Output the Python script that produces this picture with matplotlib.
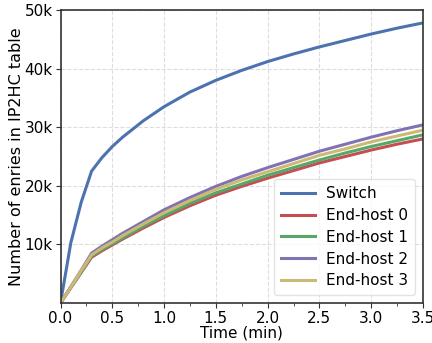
import matplotlib
matplotlib.use("Agg")
import matplotlib.pyplot as plt
from matplotlib.ticker import MultipleLocator, FuncFormatter

t = [0, 0.1, 0.2, 0.3, 0.4, 0.5, 0.6, 0.8, 1.0, 1.25, 1.5, 1.75, 2.0, 2.25, 2.5, 2.75, 3.0, 3.25, 3.5]
switch = [0, 10.3, 17.2, 22.5, 24.8, 26.7, 28.3, 31.1, 33.5, 36.0, 38.0, 39.7, 41.2, 42.5, 43.7, 44.8, 45.9, 46.9, 47.8]
host0 = [0, 2.6, 5.2, 7.8, 8.9, 9.9, 10.9, 12.8, 14.6, 16.6, 18.4, 19.9, 21.3, 22.6, 23.9, 25.0, 26.1, 27.1, 28.0]
host1 = [0, 2.65, 5.3, 8.0, 9.1, 10.1, 11.1, 13.1, 14.9, 17.0, 18.8, 20.3, 21.8, 23.1, 24.4, 25.6, 26.7, 27.7, 28.7]
host2 = [0, 2.8, 5.6, 8.5, 9.7, 10.8, 11.9, 13.9, 15.9, 18.0, 19.9, 21.6, 23.1, 24.5, 25.9, 27.1, 28.3, 29.4, 30.4]
host3 = [0, 2.7, 5.5, 8.2, 9.4, 10.4, 11.5, 13.5, 15.4, 17.5, 19.4, 21.0, 22.4, 23.8, 25.2, 26.3, 27.5, 28.5, 29.5]

series = [("Switch", switch, "#4C72B0"),
          ("End-host 0", host0, "#C44E52"),
          ("End-host 1", host1, "#55A868"),
          ("End-host 2", host2, "#8172B2"),
          ("End-host 3", host3, "#CCB974")]

plt.rcParams['font.family'] = ['DejaVu Sans']
plt.rcParams['font.size'] = 11

fig = plt.figure(figsize=(4.32, 3.43), dpi=100)
left, right, bottom, top = 60.5 / 432, 423 / 432, 1 - 303 / 343, 1 - 10 / 343
ax = fig.add_axes([left, bottom, right - left, top - bottom])

for name, vals, c in series:
    ax.plot(t, [v * 1000 for v in vals], color=c, lw=2.2, label=name)

ax.set_xlim(0, 3.5)
ax.set_ylim(0, 50000)
ax.xaxis.set_major_locator(MultipleLocator(0.5))
ax.xaxis.set_minor_locator(MultipleLocator(0.25))
ax.set_yticks([10000, 20000, 30000, 40000, 50000])
ax.yaxis.set_major_formatter(FuncFormatter(lambda v, p: f"{int(v/1000)}k"))
ax.grid(True, which='major', ls='--', color='#dddddd', lw=0.8)
ax.set_axisbelow(True)
for s in ax.spines.values():
    s.set_color('#333333')
    s.set_linewidth(1.2)
ax.tick_params(which='both', direction='out', color='#333333', labelsize=11)
ax.tick_params(which='major', length=3.5, pad=2)
ax.tick_params(which='minor', length=2)
ax.set_xlabel("Time (min)", fontsize=11, labelpad=0)
ax.set_ylabel("Number of enries in IP2HC table", fontsize=11.5)
ax.yaxis.set_label_coords(-0.100, 0.5)

leg = ax.legend(loc='lower right', fontsize=11, frameon=True, handlelength=2.2,
                borderpad=0.45, labelspacing=0.45, borderaxespad=0.5, handletextpad=0.75)
leg.get_frame().set_edgecolor('#dddddd')

fig.savefig("out.png", dpi=100)
